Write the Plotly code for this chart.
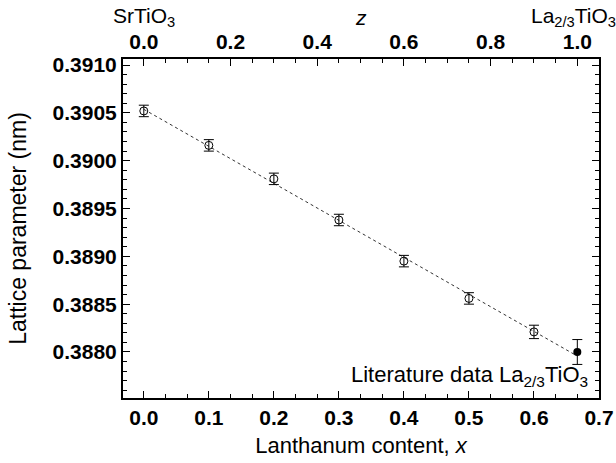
import numpy as np
import plotly.graph_objects as go

# Data
x_meas = [0.0, 0.1, 0.2, 0.3, 0.4, 0.5, 0.6]
a_meas = [0.39052, 0.39016, 0.38981, 0.38938, 0.38895, 0.38856, 0.38821]
a_err = [0.00006, 0.00006, 0.00006, 0.00006, 0.00006, 0.00006, 0.00007]
x_lit = [2/3]
a_lit = [0.38800]
a_lit_err = [0.00013]

x_ticks = [0.0, 0.1, 0.2, 0.3, 0.4, 0.5, 0.6, 0.7]
z_ticks = [0.0, 0.2, 0.4, 0.6, 0.8, 1.0]
y_ticks = [0.3880, 0.3885, 0.3890, 0.3895, 0.3900, 0.3905, 0.3910]

# linear fit through all points
xs_all = np.array(x_meas + x_lit)
as_all = np.array(a_meas + a_lit)
k, b0 = np.polyfit(xs_all, as_all, 1)
x_fit = np.array([0.0, 2/3])
a_fit = k * x_fit + b0

FONT = "Liberation Sans"
TICK_FONT = dict(family=FONT, size=21, color="black", weight="bold")
X_RANGE = [-0.032, 0.7]
Z_RANGE = [v * 1.5 for v in X_RANGE]
Y_RANGE = [0.387519, 0.391063]

fig = go.Figure()
fig.add_trace(go.Scatter(x=x_fit, y=a_fit, mode="lines",
                         line=dict(color="#333333", width=1, dash="dot"),
                         showlegend=False, hoverinfo="skip"))
fig.add_trace(go.Scatter(x=x_meas, y=a_meas, mode="markers",
                         marker=dict(symbol="circle-open", size=8, color="black",
                                     line=dict(width=1, color="black")),
                         error_y=dict(type="data", array=a_err, color="black",
                                      thickness=1, width=5),
                         showlegend=False))
fig.add_trace(go.Scatter(x=x_lit, y=a_lit, mode="markers",
                         marker=dict(symbol="circle", size=8, color="black"),
                         error_y=dict(type="data", array=a_lit_err, color="black",
                                      thickness=1, width=5),
                         showlegend=False))
# invisible trace on top axis
fig.add_trace(go.Scatter(x=[0, 1], y=[None, None], xaxis="x2", mode="markers",
                         showlegend=False, hoverinfo="skip"))

axis_common = dict(showgrid=False, zeroline=False, showline=True, linecolor="black",
                   linewidth=2, ticks="inside", tickcolor="black", tickwidth=1,
                   automargin=False, tickfont=TICK_FONT)

fig.update_layout(
    width=616, height=463,
    margin=dict(l=123, r=17, t=59, b=65),
    paper_bgcolor="white", plot_bgcolor="white",
    font=dict(family=FONT, size=22, color="black"),
    xaxis=dict(**axis_common, range=X_RANGE, tickvals=x_ticks,
               ticktext=[f"{v:.1f}" for v in x_ticks], ticklen=7,
               minor=dict(tick0=0, dtick=0.1/3, ticks="inside", ticklen=4,
                          tickcolor="black", tickwidth=1),
               title=dict(text="Lanthanum content, <i>x</i>",
                          font=dict(family=FONT, size=22), standoff=9)),
    xaxis2=dict(**axis_common, range=Z_RANGE, overlaying="x", side="top",
                tickvals=z_ticks, ticktext=[f"{v:.1f}" for v in z_ticks], ticklen=7,
                minor=dict(tick0=0, dtick=0.05, ticks="inside", ticklen=4,
                           tickcolor="black", tickwidth=1)),
    yaxis=dict(**axis_common, range=Y_RANGE, tickvals=y_ticks,
               ticktext=[f"{v:.4f}" for v in y_ticks], ticklen=7, mirror="ticks",
               minor=dict(tick0=0.3880, dtick=0.0001, ticks="inside", ticklen=4,
                          tickcolor="black", tickwidth=1),
               title=dict(text="Lattice parameter (nm)",
                          font=dict(family=FONT, size=23), standoff=20)),
)

fig.add_annotation(x=0.686, y=0.387746, xref="x", yref="y", xanchor="right",
                   yanchor="middle", showarrow=False,
                   text="Literature data La<sub>2/3</sub>TiO<sub>3</sub>",
                   font=dict(family=FONT, size=22, color="black"))
top_labels = [(0.0, "SrTiO<sub>3</sub>", 0), (0.5, "<i>z</i>", 0),
              (1.0, "La<sub>2/3</sub>TiO<sub>3</sub>", -4)]
for zx, txt, xs in top_labels:
    fig.add_annotation(x=zx, y=1.0, xref="x2", yref="paper", yshift=42, xshift=xs,
                       xanchor="center", yanchor="middle", showarrow=False, text=txt,
                       font=dict(family=FONT, size=21, color="black"))

fig.write_html("out.html")
